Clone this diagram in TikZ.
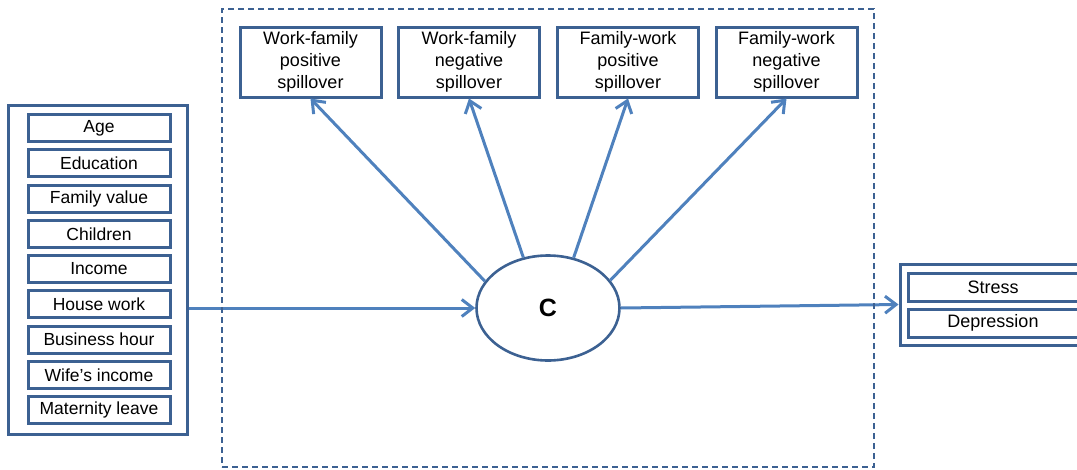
\documentclass[tikz,border=0pt]{standalone}
\usepackage{fontspec}
\setmainfont{Liberation Sans}
\usetikzlibrary{calc,arrows.meta,shapes.geometric}
\definecolor{boxblue}{HTML}{3C6192}
\definecolor{arrblue}{HTML}{4F81BD}
\begin{document}
\begin{tikzpicture}[x=1pt,y=-1pt,
  topbox/.style={draw=boxblue, line width=3pt, fill=white, inner sep=0pt, align=center,
    minimum width=141pt, minimum height=70pt, font=\fontsize{18}{22}\selectfont},
  varbox/.style={draw=boxblue, line width=3pt, fill=white, inner sep=0pt,
    minimum width=142pt, minimum height=27pt, font=\fontsize{17.5}{20}\selectfont},
  outbox/.style={draw=boxblue, line width=3pt, fill=white, inner sep=0pt,
    minimum width=170pt, minimum height=28pt, font=\fontsize{18}{20}\selectfont},
  group/.style={draw=boxblue, line width=3pt, inner sep=0pt},
  arr/.style={draw=arrblue, line width=3pt, -{Straight Barb[length=11pt,width=17pt]}},
  dashbox/.style={draw=boxblue, line width=1.6pt, dash pattern=on 6pt off 4pt}
]
\useasboundingbox (0,0) rectangle (1077,469);

% top outcome boxes
\node[topbox] (b1) at (310.5,62) {Work-family\\positive\\spillover};
\node[topbox] (b2) at (469,62) {Work-family\\negative\\spillover};
\node[topbox] (b3) at (628,62) {Family-work\\positive\\spillover};
\node[topbox] (b4) at (786.5,62) {Family-work\\negative\\spillover};

% left group
\node[group, minimum width=179pt, minimum height=329pt] (left) at (97.5,269.5) {};
\node[varbox] (v1) at (99,128) {Age};
\node[varbox] (v2) at (99,163) {Education};
\node[varbox] (v3) at (99,199) {Family value};
\node[varbox] (v4) at (99,234) {Children};
\node[varbox] (v5) at (99,269) {Income};
\node[varbox] (v6) at (99,304) {House work};
\node[varbox] (v7) at (99,339.5) {Business hour};
\node[varbox] (v8) at (99,375) {Wife’s income};
\node[varbox] (v9) at (99,410) {Maternity leave};

% right group
\node[group, minimum width=185pt, minimum height=81pt] (right) at (992.5,304.5) {};
\node[outbox] (o1) at (993,287.5) {Stress};
\node[outbox] (o2) at (993,323) {Depression};

% central ellipse
\node[ellipse, draw=boxblue, line width=2.6pt, fill=white, minimum width=143pt, minimum height=105pt,
  inner sep=0pt, font=\fontsize{25}{28}\selectfont\bfseries] (c) at (548,308) {C};

% arrows
\draw[arr] (left.east |- c.west) -- (c.west);
\draw[arr] (c.east) -- (right.west);
\draw[arr] (c.157) -- (b1.south);
\draw[arr] (c.116) -- (b2.south);
\draw[arr] (c.63) -- (b3.south);
\draw[arr] (c.24) -- (b4.south);

% dashed frame
\node[dashbox, minimum width=652pt, minimum height=458pt, inner sep=0pt] (frame) at (548,238) {};
\end{tikzpicture}
\end{document}
